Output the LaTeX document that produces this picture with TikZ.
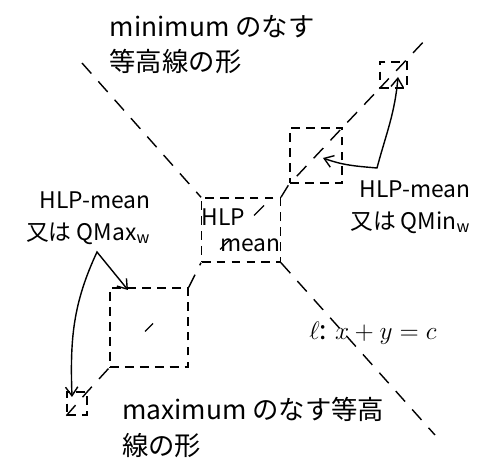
\documentclass[tikz,border=0pt]{standalone}
\usepackage{fontspec}
\setmainfont{Noto Sans CJK JP}
\usetikzlibrary{arrows.meta}

\begin{document}
\begin{tikzpicture}[
        dbox/.style={draw, thick, dash pattern=on 5pt off 3.5pt, inner sep=0pt},
        dline/.style={thick, dash pattern=on 8pt off 6pt},
        lbl/.style={font=\fontsize{15}{20}\selectfont, inner sep=1pt},
        slbl/.style={font=\fontsize{13}{18}\selectfont, inner sep=1pt},
        arr/.style={thick, {Straight Barb[length=5pt,width=7pt]}-{Straight Barb[length=5pt,width=7pt]}}
    ]
        \useasboundingbox (0,0) rectangle (9.8,9.46);

        % Texts at the top and bottom
        \node[lbl, anchor=north west, align=left] (mintxt) at (2.15, 9.2) {minimum のなす\\等高線の形};
        \node[lbl, anchor=north west, align=left] (maxtxt) at (2.4, 1.55) {maximum のなす等高\\線の形};

        % Line l: x+y=c (upper part and lower part)
        \coordinate (ltop) at (1.64, 8.2);
        \coordinate (lbot) at (8.7, 0.76);

        % Centre box
        \node[dbox, minimum width=1.36cm, minimum height=1.28cm,
              font=\fontsize{13}{15}\selectfont, align=left] (hlp) at (4.82, 4.86) {HLP\\\hspace*{0.8em}mean};

        % Boxes along the diagonal, upper right
        \node[dbox, minimum width=1.04cm, minimum height=1.1cm] (qmin) at (6.32, 6.35) {};
        \node[dbox, minimum width=0.54cm, minimum height=0.52cm] (qmintop) at (7.87, 7.96) {};

        % Boxes along the diagonal, lower left
        \node[dbox, minimum width=1.56cm, minimum height=1.58cm] (qmax) at (2.98, 2.91) {};
        \node[dbox, minimum width=0.4cm, minimum height=0.46cm] (qmaxbot) at (1.54, 1.39) {};

        \draw[dline] (ltop) -- (hlp.north west);
        \draw[dline] (hlp.south east) -- (lbot);

        % Diagonal through the boxes
        \coordinate (dtop) at (8.56, 8.72);
        \draw[dline] (qmaxbot.south west) -- (qmaxbot.north east) -- (qmax.south west);
        \draw[thick] (2.9, 2.83) -- (3.06, 2.99);
        \draw[dline] (qmax.north east) -- (hlp.south west);
        \draw[thick] (4.4, 4.47) -- (4.6, 4.67);
        \draw[thick] (5.08, 5.15) -- (5.28, 5.35);
        \draw[dline] (hlp.north east) -- (qmin.south west);
        \draw[dline] ([shift={(0.15,0.15)}]qmin.south west) -- (qmin.north east) -- (qmintop.south west);
        \draw[dline] (qmintop.south west) -- (dtop);

        % Side labels
        \node[slbl, align=right, anchor=east] (maxlbl) at (3.05, 5.1) {HLP-mean\\又は QMax\textsubscript{w}};
        \node[slbl, align=right, anchor=east] (minlbl) at (9.45, 5.32) {HLP-mean\\又は QMin\textsubscript{w}};
        \node[lbl] (line) at (7.46, 2.8) {$\ell$: $x+y=c$};

        % Arrows from the labels
        \coordinate (lpeak) at (1.94, 4.42);
        \coordinate (ltipa) at (2.56, 3.66);
        \coordinate (ltipb) at (1.44, 1.52);
        \draw[arr] (ltipa) -- (lpeak) to[out=-115, in=92] (ltipb);

        \coordinate (rcorner) at (7.54, 6.1);
        \coordinate (rtipa) at (6.46, 6.3);
        \coordinate (rtipb) at (7.96, 7.92);
        \draw[arr] (rtipa) to[out=-20, in=175] (rcorner) to[out=75, in=-95] (rtipb);
    \end{tikzpicture}
\end{document}
